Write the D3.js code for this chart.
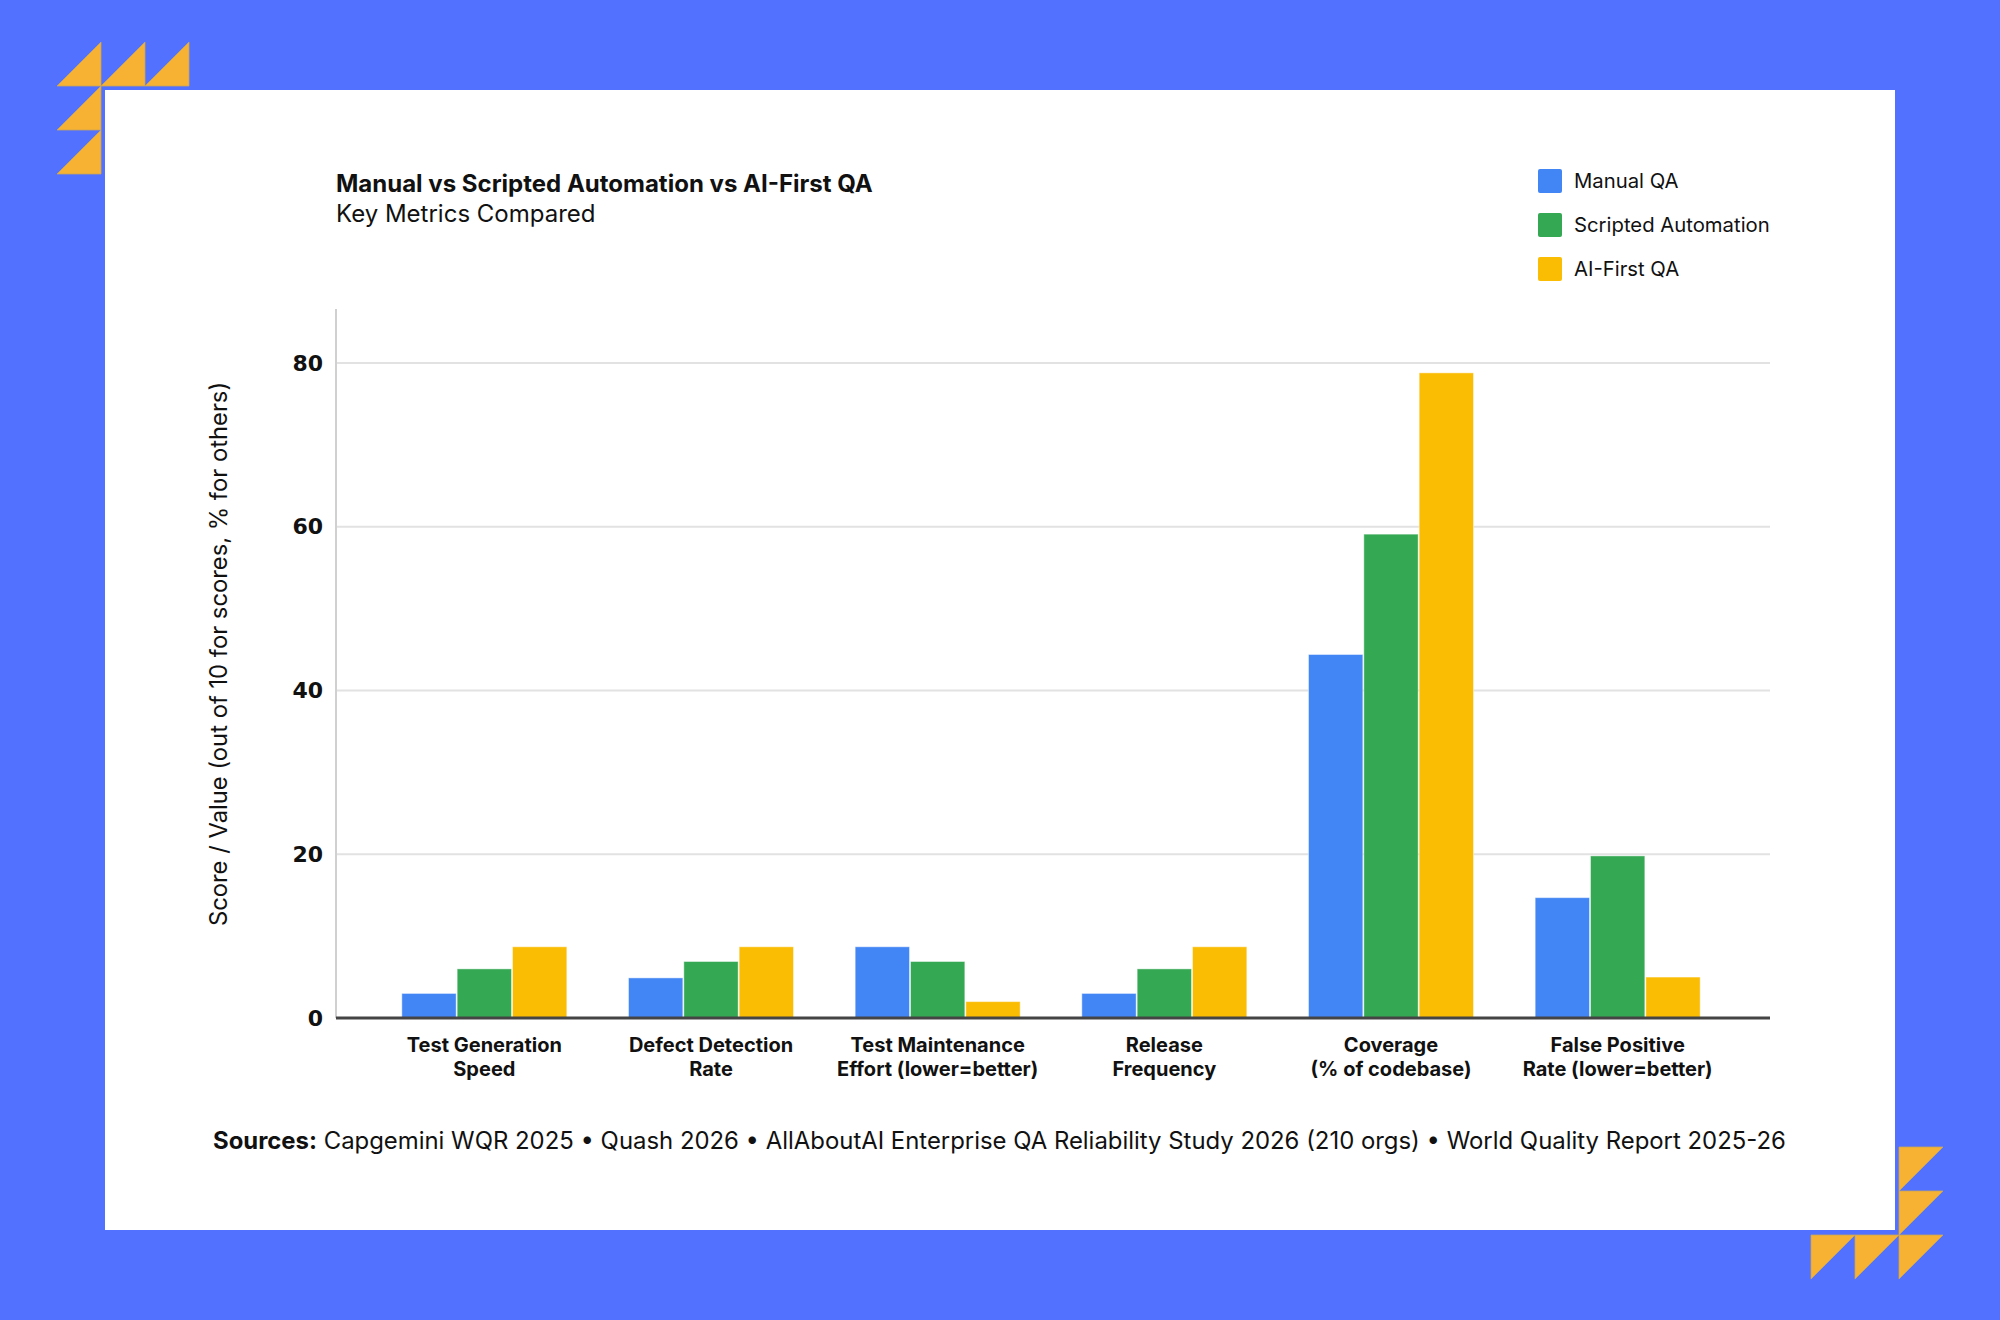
<!DOCTYPE html>
<html><head><meta charset="utf-8">
<script src="https://cdn.jsdelivr.net/npm/d3@7"></script>
<style>html,body{margin:0;padding:0;background:#5271FF;} svg{display:block}</style>
</head><body><svg id="c" width="2000" height="1320"></svg>
<script>
// ---- data ----
const categories = ["Test Generation Speed","Defect Detection Rate","Test Maintenance Effort (lower=better)","Release Frequency","Coverage (% of codebase)","False Positive Rate (lower=better)"];
const categoryLines = [["Test Generation","Speed"],["Defect Detection","Rate"],["Test Maintenance","Effort (lower=better)"],["Release","Frequency"],["Coverage","(% of codebase)"],["False Positive","Rate (lower=better)"]];
const seriesNames = ["Manual QA","Scripted Automation","AI-First QA"];
const manualQA = [3, 4.9, 8.7, 3, 44.4, 14.7];
const scriptedAutomation = [6, 6.9, 6.9, 6, 59.1, 19.8];
const aiFirstQA = [8.7, 8.7, 2, 8.7, 78.8, 5];
const yTicks = [0, 20, 40, 60, 80];
const seriesColors = ["#4285F4","#34A853","#FBBC04"];
const titleText = "Manual vs Scripted Automation vs AI-First QA";
const subtitleText = "Key Metrics Compared";
const yAxisTitle = "Score / Value (out of 10 for scores, % for others)";
const sourcesLabel = "Sources:";
const sourcesText = " Capgemini WQR 2025 \u2022 Quash 2026 \u2022 AllAboutAI Enterprise QA Reliability Study 2026 (210 orgs) \u2022 World Quality Report 2025-26";

const seriesValues = [manualQA, scriptedAutomation, aiFirstQA];
const svg = d3.select("#c");
const FONT = "Inter, 'Noto Sans', sans-serif";

// background + panel
svg.append("rect").attr("width",2000).attr("height",1320).attr("fill","#5271FF");
svg.append("rect").attr("x",105).attr("y",90).attr("width",1790).attr("height",1140).attr("fill","#ffffff");

// decorative triangles
const S = 44;
const tl = [[57,42],[101,42],[145,42],[57,86],[57,130]];
tl.forEach(([x,y])=>{
  svg.append("polygon").attr("points",`${x},${y+S} ${x+S},${y+S} ${x+S},${y}`)
    .attr("fill","#F7B233").attr("stroke","#c9a45a").attr("stroke-width",0.8);
});
const br = [[1899,1147],[1899,1191],[1899,1235],[1811,1235],[1855,1235]];
br.forEach(([x,y])=>{
  svg.append("polygon").attr("points",`${x},${y} ${x+S},${y} ${x},${y+S}`)
    .attr("fill","#F7B233").attr("stroke","#c9a45a").attr("stroke-width",0.8);
});

// scales
const plotLeft = 336, plotRight = 1770, yTop = 309, yBase = 1018;
const y = d3.scaleLinear().domain([0, 86.6]).range([yBase, yTop]);
const x0 = d3.scaleBand().domain(categories).range([371, 1731]).padding(0);
const groupW = 166;
const x1 = d3.scaleBand().domain(seriesNames).range([0, groupW]).padding(0);

// gridlines
svg.append("g").selectAll("line").data(yTicks.filter(t=>t>0)).join("line")
  .attr("x1",plotLeft).attr("x2",plotRight)
  .attr("y1",d=>y(d)).attr("y2",d=>y(d))
  .attr("stroke","#e2e2e2").attr("stroke-width",2);

// y axis line
svg.append("line").attr("x1",plotLeft).attr("x2",plotLeft).attr("y1",yTop).attr("y2",yBase)
  .attr("stroke","#d0d0d0").attr("stroke-width",2);

// y axis ticks
const yAxis = svg.append("g").attr("transform",`translate(${plotLeft},0)`)
  .call(d3.axisLeft(y).tickValues(yTicks).tickSize(0).tickPadding(13).tickFormat(d3.format("d")));
yAxis.select(".domain").remove();
yAxis.selectAll("text").attr("font-family","'DejaVu Sans', sans-serif").attr("font-weight","bold")
  .attr("font-size",22).attr("fill","#111");

// bars
const groups = svg.append("g").selectAll("g").data(categories).join("g")
  .attr("transform",d=>`translate(${x0(d) + (x0.bandwidth()-groupW)/2},0)`);
groups.selectAll("rect").data((c,i)=>seriesNames.map((s,j)=>({s, v: seriesValues[j][i], j})))
  .join("rect")
  .attr("x",d=>x1(d.s)+0.5).attr("width",x1.bandwidth()-1)
  .attr("y",d=>y(d.v)).attr("height",d=>yBase - y(d.v))
  .attr("fill",d=>seriesColors[d.j])
  .attr("stroke","rgba(255,255,255,0.45)").attr("stroke-width",1);

// baseline
svg.append("line").attr("x1",plotLeft).attr("x2",plotRight).attr("y1",yBase).attr("y2",yBase)
  .attr("stroke","#444").attr("stroke-width",3);

// x axis labels
const xAxis = svg.append("g").attr("transform",`translate(0,${yBase})`)
  .call(d3.axisBottom(x0).tickSize(0).tickFormat(""));
xAxis.select(".domain").remove();
xAxis.selectAll(".tick").each(function(d,i){
  const t = d3.select(this).append("text").attr("fill","#111").attr("text-anchor","middle")
    .attr("font-family",FONT).attr("font-weight","bold").attr("font-size",20);
  categoryLines[i].forEach((ln,k)=>{
    t.append("tspan").attr("x",0).attr("y",33.5 + k*24).text(ln);
  });
});

// title
svg.append("text").attr("x",336).attr("y",192).attr("font-family",FONT).attr("font-weight","bold")
  .attr("font-size",24).attr("fill","#111").text(titleText);
svg.append("text").attr("x",336).attr("y",222).attr("font-family",FONT)
  .attr("font-size",24).attr("fill","#111").text(subtitleText);

// legend
const lg = svg.append("g").selectAll("g").data(seriesNames).join("g")
  .attr("transform",(d,i)=>`translate(1538,${169 + i*44})`);
lg.append("rect").attr("width",24).attr("height",24).attr("rx",2).attr("fill",(d,i)=>seriesColors[i]);
lg.append("text").attr("x",36).attr("y",19).attr("font-family",FONT).attr("font-size",20.3)
  .attr("fill","#111").text(d=>d);

// y axis title
svg.append("text").attr("transform","translate(218,654) rotate(-90)").attr("text-anchor","middle")
  .attr("dominant-baseline","central").attr("font-family",FONT).attr("font-size",23.8)
  .attr("fill","#111").text(yAxisTitle);

// sources
const src = svg.append("text").attr("x",213).attr("y",1149).attr("font-family",FONT)
  .attr("font-size",23.9).attr("fill","#111");
src.append("tspan").attr("font-weight","bold").text(sourcesLabel);
src.append("tspan").text(sourcesText);
</script></body></html>
